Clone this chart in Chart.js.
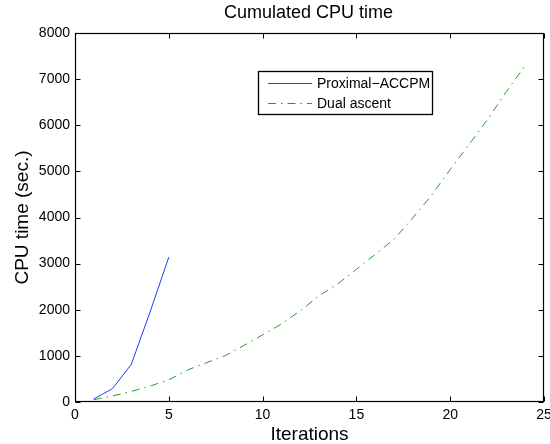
<!DOCTYPE html>
<html>
<head>
<meta charset="utf-8">
<script src="https://cdn.jsdelivr.net/npm/chart.js@4.4.1/dist/chart.umd.min.js"></script>
<style>
  html, body { margin: 0; padding: 0; background: #fff; }
  #wrap { width: 550px; height: 444px; }
</style>
</head>
<body>
<div id="wrap"><canvas id="c" width="550" height="444"></canvas></div>
<script>
const chartTitle = "Cumulated CPU time";
const xTitle = "Iterations";
const yTitle = "CPU time (sec.)";
const seriesNames = ["Proximal\u2212ACCPM", "Dual ascent"];

const proximalIter = [1, 2, 3, 4, 5];
const proximalTime = [65, 290, 815, 1950, 3140];

const dualIter = [1, 2, 3, 4, 5, 6, 7, 8, 9, 10, 11, 12, 13, 14, 15, 16, 17, 18, 19, 20, 21, 22, 23, 24];
const dualTime = [50, 130, 230, 345, 480, 695, 850, 1005, 1225, 1455, 1690, 1975, 2300, 2560, 2875, 3200, 3525, 3990, 4480, 5040, 5580, 6130, 6730, 7300];

const xTicksMin = 0, xTicksMax = 25, xStep = 5;
const yTicksMin = 0, yTicksMax = 8000, yStep = 1000;

const FONT = "'Liberation Sans', Arial, Helvetica, sans-serif";

function toPoints(xs, ys) { return xs.map((x, i) => ({ x: x, y: ys[i] })); }

const frame = {
  id: 'frame',
  afterDraw(chart) {
    const ctx = chart.ctx;
    const a = chart.chartArea;
    const xs = chart.scales.x, ys = chart.scales.y;
    ctx.save();
    ctx.strokeStyle = '#000';
    ctx.lineWidth = 1.2;
    const L = Math.round(a.left) + 0.5, R = Math.round(a.right) - 0.5;
    const T = Math.round(a.top) + 0.5, B = Math.round(a.bottom) - 0.5;
    ctx.strokeRect(L, T, R - L, B - T);
    const tl = 5;
    ctx.lineWidth = 1;
    ctx.beginPath();
    xs.ticks.forEach(t => {
      const px = Math.round(xs.getPixelForValue(t.value)) + 0.5;
      ctx.moveTo(px, B); ctx.lineTo(px, B - tl);
      ctx.moveTo(px, T); ctx.lineTo(px, T + tl);
    });
    ys.ticks.forEach(t => {
      const py = Math.round(ys.getPixelForValue(t.value)) + 0.5;
      ctx.moveTo(L, py); ctx.lineTo(L + tl, py);
      ctx.moveTo(R, py); ctx.lineTo(R - tl, py);
    });
    ctx.stroke();

    // title
    ctx.fillStyle = '#000';
    ctx.font = '18px ' + FONT;
    ctx.textAlign = 'center';
    ctx.textBaseline = 'middle';
    ctx.fillText(chartTitle, (a.left + a.right) / 2 - 1, 13);

    // legend
    const bx = 258.5, by = 71.5, bw = 174, bh = 43;
    ctx.fillStyle = '#fff';
    ctx.fillRect(bx, by, bw, bh);
    ctx.strokeStyle = '#000';
    ctx.lineWidth = 1.3;
    ctx.strokeRect(bx, by, bw, bh);
    ctx.font = '14px ' + FONT;
    ctx.textAlign = 'left';
    ctx.textBaseline = 'middle';
    chart.data.datasets.forEach((ds, i) => {
      const yy = 83.5 + i * 20;
      ctx.save();
      ctx.strokeStyle = ds.borderColor;
      ctx.lineWidth = ds.borderWidth;
      ctx.setLineDash(ds.borderDash || []);
      ctx.beginPath();
      ctx.moveTo(268, yy); ctx.lineTo(312, yy);
      ctx.stroke();
      ctx.restore();
      ctx.fillStyle = '#000';
      ctx.fillText(ds.label, 317, yy + 0.5);
    });
    ctx.restore();
  }
};

new Chart(document.getElementById('c'), {
  type: 'line',
  data: {
    datasets: [
      {
        label: seriesNames[0],
        data: toPoints(proximalIter, proximalTime),
        borderColor: 'rgb(30,60,255)',
        borderWidth: 1,
        pointRadius: 0,
        fill: false,
        tension: 0
      },
      {
        label: seriesNames[1],
        data: toPoints(dualIter, dualTime),
        borderColor: 'rgb(30,160,30)',
        borderWidth: 1,
        borderDash: [8, 5, 1.5, 5],
        pointRadius: 0,
        fill: false,
        tension: 0
      }
    ]
  },
  options: {
    responsive: false,
    animation: false,
    devicePixelRatio: 1,
    layout: { padding: { top: 33, right: 6, left: 0, bottom: 0 } },
    plugins: {
      legend: { display: false },
      title: { display: false },
      tooltip: { enabled: false }
    },
    scales: {
      x: {
        type: 'linear',
        min: xTicksMin, max: xTicksMax,
        grid: { display: false, drawTicks: false, tickLength: 0 },
        border: { display: false },
        ticks: { stepSize: xStep, color: '#000', padding: 5, font: { family: FONT, size: 14 }, maxRotation: 0, callback: v => String(v) },
        title: { display: true, text: xTitle, color: '#000', font: { family: FONT, size: 19, lineHeight: 1 }, padding: { top: 0, bottom: 0 } },
        afterFit(s) { s.height = 42; s.paddingLeft = 0; s.paddingRight = 0; }
      },
      y: {
        type: 'linear',
        min: yTicksMin, max: yTicksMax,
        grid: { display: false, drawTicks: false, tickLength: 0 },
        border: { display: false },
        ticks: { stepSize: yStep, color: '#000', padding: 5, font: { family: FONT, size: 14 }, callback: v => String(v) },
        title: { display: true, text: yTitle, color: '#000', font: { family: FONT, size: 19, lineHeight: 1.2 }, padding: { top: 11, bottom: 0 } },
        afterFit(s) { s.width = 75; s.paddingTop = 0; s.paddingBottom = 0; }
      }
    }
  },
  plugins: [frame]
});
</script>
</body>
</html>
